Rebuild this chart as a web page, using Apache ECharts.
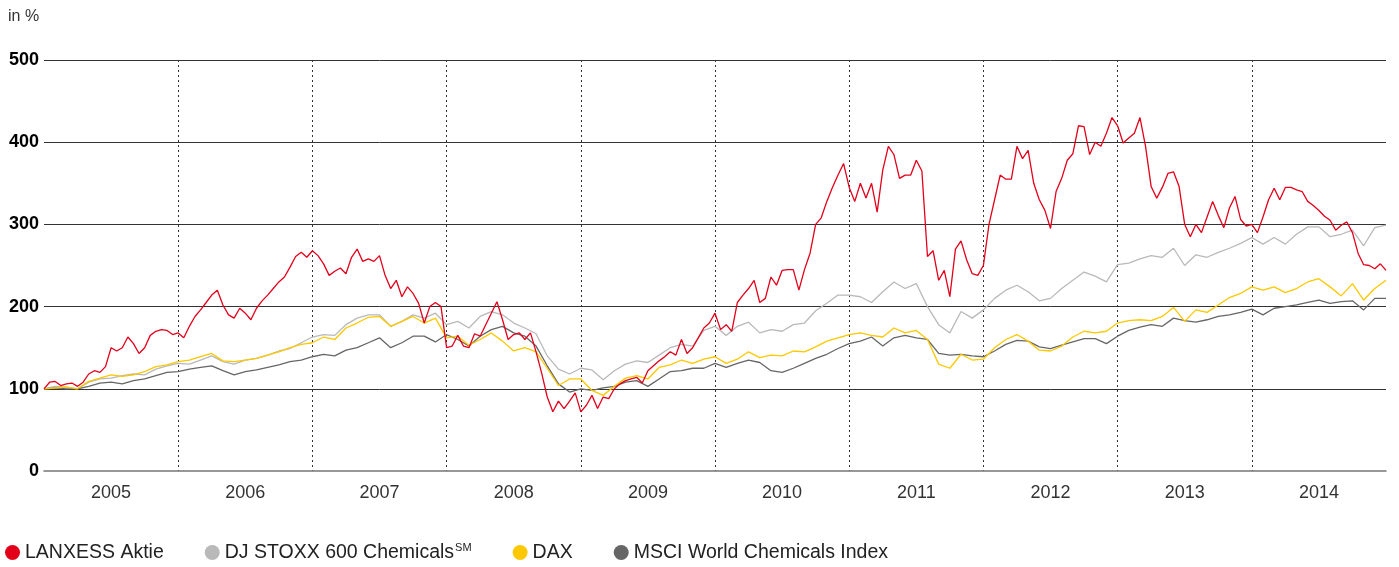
<!DOCTYPE html>
<html>
<head>
<meta charset="utf-8">
<title>LANXESS Aktie</title>
<script src="https://cdn.jsdelivr.net/npm/echarts@6/dist/echarts.min.js"></script>
<style>
html, body { margin: 0; padding: 0; background: #fff; }
#chart { width: 1399px; height: 567px; }
</style>
</head>
<body>
<div id="chart"></div>
<script>
// one label per year, centred between the dotted year lines
const years = ['2005', '2006', '2007', '2008', '2009', '2010', '2011', '2012', '2013', '2014']

// LANXESS Aktie, two readings a month from Jan 2005 (start = 100 %)
const lanxess = [
  100, 108, 109, 104, 106, 107, 103, 108, 118, 122, 120, 127, 150, 146, 150, 163, 155, 143, 150, 165, 170, 172, 171, 166,
  168, 162, 176, 188, 196, 205, 214, 220, 202, 190, 186, 198, 192, 184, 198, 207, 214, 222, 230, 236, 248, 261, 266, 260,
  268, 262, 252, 238, 243, 247, 240, 260, 270, 255, 258, 255, 262, 238, 222, 232, 212, 224, 216, 204, 180, 200, 205, 200,
  150, 152, 165, 152, 150, 167, 164, 178, 192, 206, 184, 160, 166, 168, 160, 168, 145, 119, 90, 72, 85, 76, 85, 95,
  72, 80, 92, 76, 90, 88, 100, 106, 110, 112, 114, 107, 122, 128, 134, 139, 145, 141, 160, 143, 150, 162, 174, 180,
  192, 172, 178, 170, 205, 214, 222, 232, 205, 210, 236, 226, 244, 245, 245, 220, 245, 265, 300, 308, 328, 345, 360, 374,
  345, 328, 350, 332, 350, 315, 366, 395, 385, 356, 360, 360, 378, 365, 261, 268, 232, 244, 212, 270, 280, 257, 240, 238,
  250, 300, 330, 360, 355, 355, 395, 380, 390, 350, 330, 317, 295, 340, 356, 378, 386, 420, 419, 385, 400, 395, 411, 430,
  420, 399, 405, 411, 430, 395, 346, 332, 345, 362, 364, 346, 300, 285, 300, 290, 309, 328, 311, 296, 320, 334, 306, 298,
  300, 290, 309, 330, 344, 330, 345, 345, 342, 340, 328, 323, 317, 310, 305, 293, 299, 303, 290, 265, 251, 250, 246, 252,
  244
]

// the three indices, one reading a month
const djStoxx = [
  100, 103, 102, 100, 108, 112, 113, 116, 118, 117, 124, 128,
  131, 130, 135, 140, 133, 130, 135, 137, 141, 146, 149, 156,
  163, 166, 165, 178, 186, 190, 190, 176, 182, 190, 186, 192,
  178, 182, 174, 188, 194, 190, 180, 174, 167, 140, 124, 118,
  125, 123, 111, 122, 130, 134, 132, 141, 150, 154, 152, 171,
  176, 165, 176, 181, 168, 172, 170, 178, 180, 195, 204, 214,
  214, 212, 205, 218, 230, 222, 228, 200, 178, 168, 194, 186,
  196, 210, 220, 226, 218, 207, 210, 222, 232, 242, 237, 230,
  251, 253, 258, 262, 260, 271, 250, 263, 260, 266, 271, 277,
  284, 276, 284, 276, 288, 297, 297, 285, 288, 293, 274, 296,
  299
]
const dax = [
  100, 101, 102, 100, 109, 113, 117, 115, 117, 121, 127, 129,
  133, 135, 139, 143, 134, 133, 135, 137, 141, 145, 150, 154,
  156, 163, 160, 174, 180, 187, 188, 176, 182, 188, 180, 186,
  162, 164, 153, 160, 168, 158, 146, 150, 145, 125, 104, 112,
  112, 98, 92, 103, 113, 116, 112, 126, 129, 135, 131, 136,
  139, 131, 136, 145, 138, 141, 140, 146, 145, 151, 158, 162,
  166, 168, 165, 163, 174, 168, 171, 160, 130, 125, 142, 135,
  136, 150, 160, 166, 158, 147, 146, 152, 163, 170, 168, 170,
  180, 183, 184, 183, 188, 199, 182, 196, 193, 202, 211, 216,
  224, 220, 224, 217, 222, 230, 234, 224, 213, 228, 208, 222,
  232
]
const msci = [
  100, 101, 100, 100, 103, 107, 108, 106, 110, 112, 116, 120,
  121, 124, 126, 128, 122, 117, 121, 123, 126, 129, 133, 135,
  139, 142, 140, 147, 150, 156, 162, 150, 156, 164, 164, 157,
  166, 160, 152, 164, 172, 176, 168, 164, 152, 128, 106, 96,
  100, 98, 101, 103, 108, 110, 103, 112, 121, 122, 125, 125,
  131, 126, 131, 135, 132, 122, 120, 125, 131, 137, 142, 149,
  155, 158, 163, 152, 162, 165, 162, 160, 143, 141, 142, 140,
  139, 146, 154, 159, 158, 151, 149, 153, 157, 161, 161, 155,
  164, 171, 175, 178, 176, 186, 183, 181, 184, 188, 190, 193,
  197, 190, 198, 200, 202, 205, 208, 204, 206, 207, 196, 210,
  210
]

const chart = echarts.init(document.getElementById('chart'))

// x is counted in months from the start of 2005
const perMonth = (arr, step) => arr.map((v, i) => [i * step, v])

const lineSeries = (name, data, color, z) => ({
  name: name,
  type: 'line',
  data: data,
  showSymbol: false,
  symbol: 'none',
  z: z,
  lineStyle: { color: color, width: 1.3 },
  itemStyle: { color: color }
})

const option = {
  animation: false,
  backgroundColor: '#fff',
  textStyle: { fontFamily: 'Liberation Sans, Arial, sans-serif' },
  title: {
    text: 'in %',
    left: 8,
    top: 9,
    padding: 0,
    textStyle: { fontSize: 16, fontWeight: 'normal', color: '#333' }
  },
  legend: {
    data: ['LANXESS Aktie', 'DJ STOXX 600 Chemicals', 'DAX', 'MSCI World Chemicals Index'],
    left: 5,
    top: 542,
    padding: 0,
    itemGap: 41,
    itemWidth: 15,
    itemHeight: 15,
    icon: 'circle',
    formatter: function (name) {
      return name === 'DJ STOXX 600 Chemicals' ? name + '{sup|SM}' : name
    },
    textStyle: {
      fontSize: 19.5,
      color: '#222',
      rich: {
        sup: { fontSize: 11, color: '#222', padding: [0, 0, 10, 1] }
      }
    }
  },
  grid: {
    left: 44,
    right: 13,
    top: 60,
    bottom: 96,
    containLabel: false,
    outerBoundsMode: 'none'
  },
  xAxis: [
    {
      type: 'value',
      min: 0,
      max: 120,
      interval: 12,
      axisLabel: { show: false },
      axisTick: { show: false },
      axisLine: { show: true, lineStyle: { color: '#777', width: 1.5 } },
      splitLine: {
        show: true,
        showMinLine: false,
        showMaxLine: false,
        lineStyle: { color: '#333', width: 1, type: [2, 3] }
      }
    },
    {
      type: 'category',
      data: years,
      position: 'bottom',
      boundaryGap: true,
      axisLine: { show: false },
      axisTick: { show: false },
      splitLine: { show: false },
      axisLabel: { fontSize: 18, color: '#333', margin: 13 }
    }
  ],
  yAxis: {
    type: 'value',
    min: 0,
    max: 500,
    interval: 100,
    axisLine: { show: false },
    axisTick: { show: false },
    axisLabel: { fontSize: 18, fontWeight: 'bold', color: '#000', margin: 5 },
    splitLine: {
      show: true,
      showMinLine: false,
      lineStyle: { color: '#333', width: 1 }
    }
  },
  series: [
    lineSeries('DJ STOXX 600 Chemicals', perMonth(djStoxx, 1), '#b9b9b9', 2),
    lineSeries('MSCI World Chemicals Index', perMonth(msci, 1), '#666666', 3),
    lineSeries('DAX', perMonth(dax, 1), '#fdc800', 4),
    lineSeries('LANXESS Aktie', perMonth(lanxess, 0.5), '#e2001a', 5)
  ]
}
chart.setOption(option)
</script>
</body>
</html>
